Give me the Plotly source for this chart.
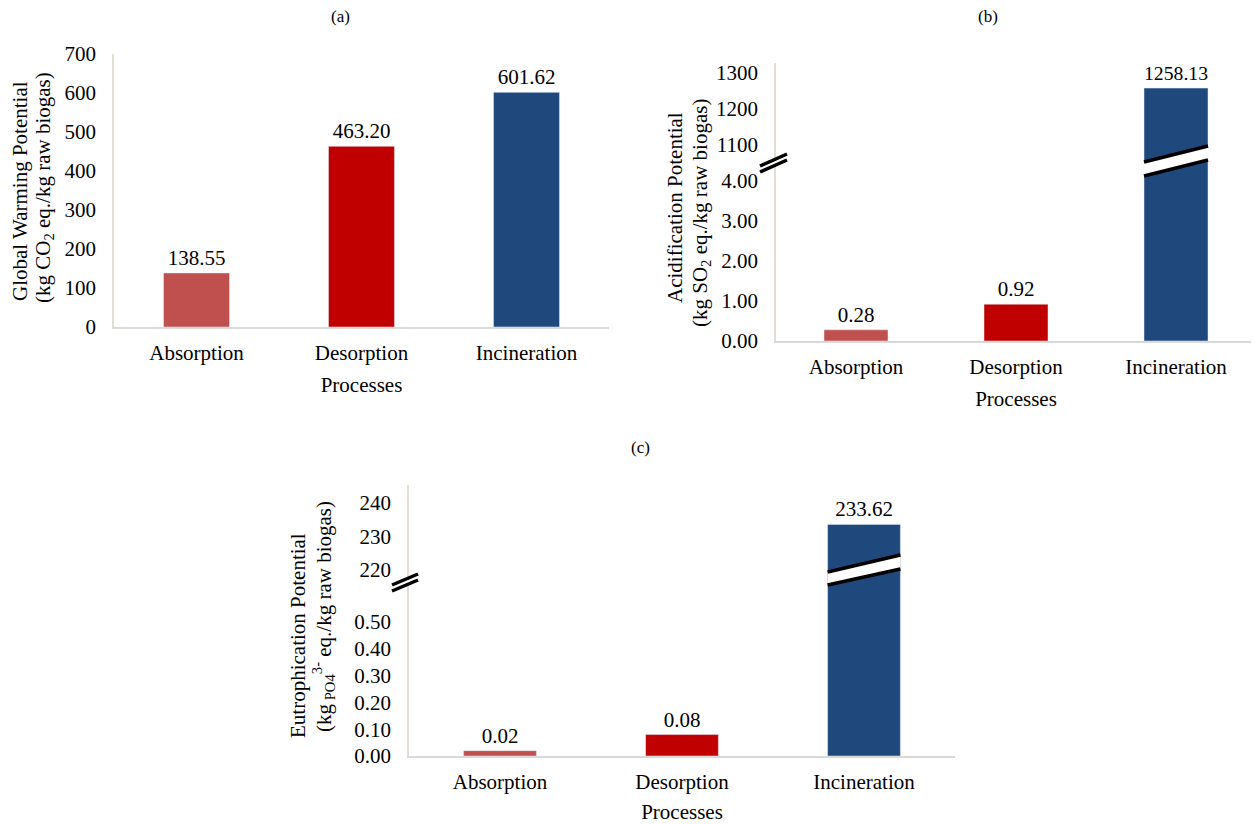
import plotly.graph_objects as go

# ---------------- data ----------------
categories = ["Absorption", "Desorption", "Incineration"]
gwp_values = [138.55, 463.20, 601.62]      # kg CO2 eq./kg raw biogas
ap_values = [0.28, 0.92, 1258.13]          # kg SO2 eq./kg raw biogas
ep_values = [0.02, 0.08, 233.62]           # kg PO4(3-) eq./kg raw biogas
bar_colors = ["#C0504D", "#C00000", "#1F497D"]

gwp_ticks = [0, 100, 200, 300, 400, 500, 600, 700]
ap_ticks_low = [0, 1, 2, 3, 4]
ap_ticks_high = [1100, 1200, 1300]
ep_ticks_low = [0, 0.1, 0.2, 0.3, 0.4, 0.5]
ep_ticks_high = [220, 230, 240]

# ---------------- layout helpers ----------------
OFF = 8                      # page body margin in the browser
W, H = 1259 - OFF, 824 - OFF
FONT = "Liberation Serif, Times New Roman, serif"
def px(x):
    return (x - OFF) / W
def py(y):
    return 1 - (y - OFF) / H

BAR_W = 0.4
AX_Y_COLOR = "#E2DED3"
AX_X_COLOR = "#D9D9D9"

# ranges (lower / upper parts of broken axes)
ap_low_range = [0, 4.45]
ap_high_range = [1050, 1327.8]
ep_low_range = [0, 0.6455]
ep_high_range = [216.1, 245.4]

fig = go.Figure()

def fmt(v):
    return f"{v:.2f}"

TXT = dict(size=21, color="black", family=FONT)

# (a) GWP
fig.add_trace(go.Bar(
    x=categories, y=gwp_values, width=BAR_W, marker_color=bar_colors,
    text=[fmt(v) for v in gwp_values], textposition="outside", textfont=TXT,
    xaxis="x", yaxis="y", showlegend=False, hoverinfo="x+y"))

# (b) AP lower & upper
fig.add_trace(go.Bar(
    x=categories, y=ap_values, width=BAR_W, marker_color=bar_colors,
    text=[fmt(v) if v <= ap_low_range[1] else "" for v in ap_values],
    textposition="outside", textfont=TXT,
    xaxis="x2", yaxis="y2", showlegend=False, hoverinfo="x+y"))
fig.add_trace(go.Bar(
    x=categories, y=[v if v >= ap_high_range[0] else None for v in ap_values],
    width=BAR_W, marker_color=bar_colors,
    text=[fmt(v) if v >= ap_high_range[0] else "" for v in ap_values],
    textposition="outside", textfont=TXT,
    xaxis="x2", yaxis="y3", showlegend=False, hoverinfo="x+y"))

# (c) EP lower & upper
fig.add_trace(go.Bar(
    x=categories, y=ep_values, width=BAR_W, marker_color=bar_colors,
    text=[fmt(v) if v <= ep_low_range[1] else "" for v in ep_values],
    textposition="outside", textfont=TXT,
    xaxis="x3", yaxis="y4", showlegend=False, hoverinfo="x+y"))
fig.add_trace(go.Bar(
    x=categories, y=[v if v >= ep_high_range[0] else None for v in ep_values],
    width=BAR_W, marker_color=bar_colors,
    text=[fmt(v) if v >= ep_high_range[0] else "" for v in ep_values],
    textposition="outside", textfont=TXT,
    xaxis="x3", yaxis="y5", showlegend=False, hoverinfo="x+y"))

tickfont = dict(size=21, color="black", family=FONT)

def xax(domain, anchor):
    return dict(domain=domain, anchor=anchor, type="category",
                categoryorder="array", categoryarray=categories,
                showline=True, linecolor=AX_X_COLOR, linewidth=2,
                showgrid=False, zeroline=False, ticks="", tickfont=tickfont,
                ticklabelstandoff=6, automargin=False,
                title=dict(text="Processes", font=dict(size=21, color="black", family=FONT),
                           standoff=13),
                fixedrange=True)

def yax(domain, anchor, rng, tickvals, fmt_str, show_line=True):
    return dict(domain=domain, anchor=anchor, range=rng, tickvals=tickvals,
                tickformat=fmt_str, showline=show_line, linecolor=AX_Y_COLOR,
                linewidth=1.5, showgrid=False, zeroline=False, ticks="",
                tickfont=tickfont, ticklabelstandoff=12, automargin=False,
                fixedrange=True)

fig.update_layout(
    width=W, height=H, autosize=False,
    margin=dict(l=0, r=0, t=0, b=0, pad=0),
    paper_bgcolor="white", plot_bgcolor="white",
    font=dict(family=FONT, color="black"),
    xaxis=xax([px(114), px(609)], "y"),
    yaxis=yax([py(327), py(54)], "x", [0, 700], gwp_ticks, "d"),
    xaxis2=xax([px(776), px(1256)], "y2"),
    yaxis2=yax([py(341), py(163)], "x2", ap_low_range, ap_ticks_low, ".2f"),
    yaxis3=yax([py(163), py(63)], "x2", ap_high_range, ap_ticks_high, "d"),
    xaxis3=xax([px(409), px(955)], "y4"),
    yaxis4=yax([py(756), py(583)], "x3", ep_low_range, ep_ticks_low, ".2f"),
    yaxis5=yax([py(583), py(485)], "x3", ep_high_range, ep_ticks_high, "d"),
)

# ---------------- annotations ----------------
ann_font = dict(size=21, color="black", family=FONT)
lbl_font = dict(size=17, color="black", family=FONT)

def label(text, x, y, font, angle=0):
    return dict(text=text, x=px(x), y=py(y), xref="paper", yref="paper",
                showarrow=False, font=font, textangle=angle,
                xanchor="center", yanchor="middle")

annotations = [
    label("(a)", 340, 17, lbl_font),
    label("(b)", 988, 17, lbl_font),
    label("(c)", 640, 447, lbl_font),
    label("Global Warming Potential", 20, 191, ann_font, -90),
    label("(kg CO<sub>2</sub> eq./kg raw biogas)", 44, 188, ann_font, -90),
    label("Acidification Potential", 675, 208, ann_font, -90),
    label("(kg SO<sub>2</sub> eq./kg raw biogas)", 701, 213, ann_font, -90),
    label("Eutrophication Potential", 298, 636, ann_font, -90),
    label("(kg<sub> PO4</sub><sup>3-</sup> eq./kg raw biogas)", 323, 617, ann_font, -90),
]
fig.update_layout(annotations=annotations)

# ---------------- break decorations ----------------
shapes = []

def bar_break(xref, idx, yl_top, yr_top, yl_bot, yr_bot):
    x0, x1 = idx - BAR_W / 2, idx + BAR_W / 2
    path = (f"M {x0},{py(yl_top)} L {x1},{py(yr_top)} "
            f"L {x1},{py(yr_bot)} L {x0},{py(yl_bot)} Z")
    shapes.append(dict(type="path", path=path, xref=xref, yref="paper",
                       fillcolor="white", line=dict(width=0), layer="above"))
    for a, b in ((yl_top, yr_top), (yl_bot, yr_bot)):
        shapes.append(dict(type="line", xref=xref, yref="paper",
                           x0=x0, x1=x1, y0=py(a), y1=py(b),
                           line=dict(color="black", width=3.5), layer="above"))

def axis_break(xl, xr, yl_top, yr_top, gap):
    path = (f"M {px(xl)},{py(yl_top)} L {px(xr)},{py(yr_top)} "
            f"L {px(xr)},{py(yr_top + gap)} L {px(xl)},{py(yl_top + gap)} Z")
    shapes.append(dict(type="path", path=path, xref="paper", yref="paper",
                       fillcolor="white", line=dict(width=0), layer="above"))
    for off in (0, gap):
        shapes.append(dict(type="line", xref="paper", yref="paper",
                           x0=px(xl), x1=px(xr), y0=py(yl_top + off), y1=py(yr_top + off),
                           line=dict(color="black", width=3.5), layer="above"))

inc_idx = categories.index("Incineration")
bar_break("x2", inc_idx, 162, 146, 176, 160)
bar_break("x3", inc_idx, 572, 555, 585, 569)
axis_break(760, 787, 166, 154, 6)
axis_break(392, 418, 585, 574, 6)

fig.update_layout(shapes=shapes)

fig.write_html("out.html")
